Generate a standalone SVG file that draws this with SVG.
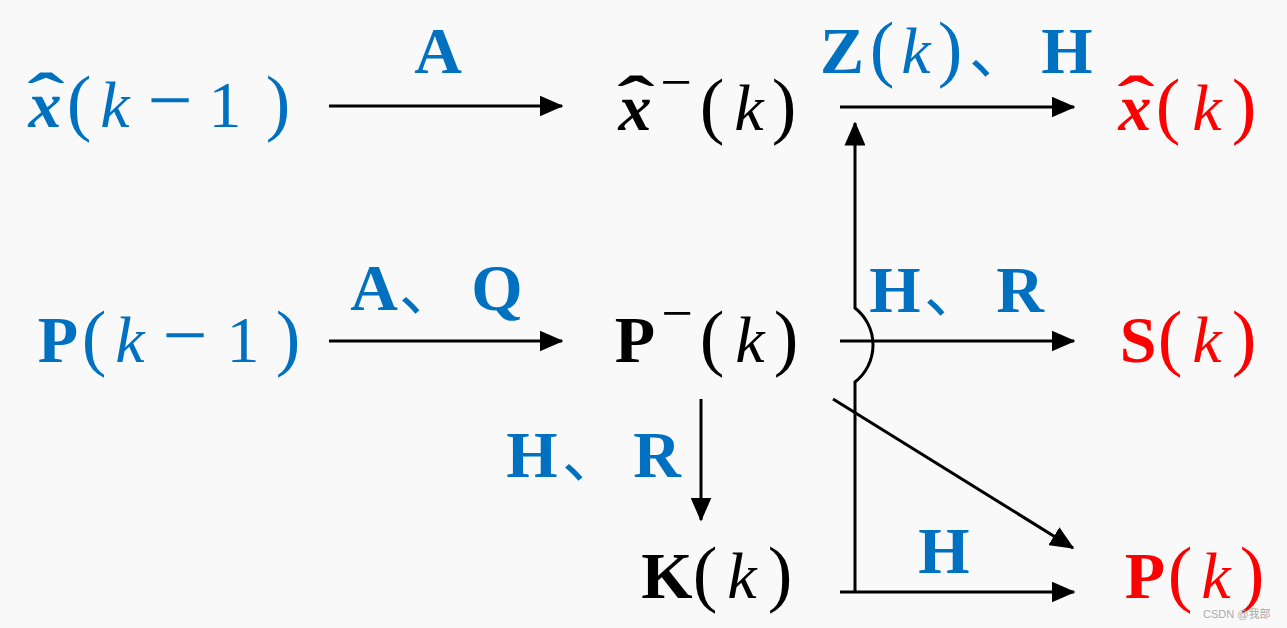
<svg xmlns="http://www.w3.org/2000/svg" width="1287" height="628" viewBox="0 0 1287 628">
<defs>
<marker id="ah" markerWidth="8" markerHeight="7" refX="7.5" refY="3.5" orient="auto" markerUnits="strokeWidth">
<path d="M0,0 L8,3.5 L0,7 Z" fill="#000"/>
</marker>
<style>
text{font-family:"Liberation Serif","DejaVu Serif",serif;text-anchor:middle;font-size:66px}
.b{fill:#0070C0}.r{fill:#FF0000}.k{fill:#000}
.bd{font-weight:bold}
.it{font-style:italic}
.x{font-weight:bold;font-style:italic}
.hat{font-weight:bold;font-size:66px}
.p{font-size:74px}
.m{font-size:80px}
.sup{font-size:56px}
.cm{font-family:"Noto Sans CJK SC",sans-serif;font-size:60px}
.c{stroke:#000;stroke-width:3;fill:none;marker-end:url(#ah)}
</style>
</defs>
<rect width="1287" height="628" fill="#F9F9F9"/>
<g id="connectors">
<line class="c" x1="329" y1="106" x2="562" y2="106"/>
<line class="c" x1="840" y1="107" x2="1074" y2="107"/>
<line class="c" x1="329" y1="341" x2="562" y2="341"/>
<line class="c" x1="840" y1="341" x2="1074" y2="341"/>
<line class="c" x1="701" y1="399" x2="701" y2="520"/>
<line class="c" x1="833" y1="399" x2="1073" y2="548"/>
<line class="c" x1="840" y1="592" x2="1074" y2="592"/>
<path class="c" d="M855,592 V382 A47,47 0 0 0 855,308 V123"/>
</g>
<g id="xhat_km1">
<text class="b" y="127"><tspan class="x" x="45">x</tspan><tspan class="p" x="79">(</tspan><tspan class="it" x="115">k</tspan><tspan class="m" x="170">−</tspan><tspan x="225">1</tspan><tspan class="p" x="278">)</tspan></text>
<text class="b hat" transform="translate(46,119) scale(1.7,1)">ˆ</text>
</g>
<g id="xhat_minus_k">
<text class="k" y="130"><tspan class="x" x="635">x</tspan><tspan class="sup" x="676" y="101">−</tspan><tspan class="p" x="712" y="130">(</tspan><tspan class="it" x="749">k</tspan><tspan class="p" x="784">)</tspan></text>
<text class="k hat" transform="translate(636,122) scale(1.7,1)">ˆ</text>
</g>
<g id="xhat_k">
<text class="r" y="130"><tspan class="x" x="1135">x</tspan><tspan class="p" x="1168">(</tspan><tspan class="it" x="1207">k</tspan><tspan class="p" x="1244">)</tspan></text>
<text class="r hat" transform="translate(1136,122) scale(1.7,1)">ˆ</text>
</g>
<g id="P_km1"><text class="b" y="362"><tspan class="bd" x="58">P</tspan><tspan class="p" x="94">(</tspan><tspan class="it" x="130">k</tspan><tspan class="m" x="185">−</tspan><tspan x="243">1</tspan><tspan class="p" x="288">)</tspan></text></g>
<g id="P_minus_k"><text class="k" y="362"><tspan class="bd" x="635">P</tspan><tspan class="sup" x="677" y="332">−</tspan><tspan class="p" x="712" y="362">(</tspan><tspan class="it" x="750">k</tspan><tspan class="p" x="786">)</tspan></text></g>
<g id="S_k"><text class="r" y="362"><tspan class="bd" x="1138">S</tspan><tspan class="p" x="1170">(</tspan><tspan class="it" x="1207">k</tspan><tspan class="p" x="1244">)</tspan></text></g>
<g id="K_k"><text class="k" y="598"><tspan class="bd" x="667">K</tspan><tspan class="p" x="705">(</tspan><tspan class="it" x="742">k</tspan><tspan class="p" x="780">)</tspan></text></g>
<g id="P_k"><text class="r" y="598"><tspan class="bd" x="1145">P</tspan><tspan class="p" x="1180">(</tspan><tspan class="it" x="1216">k</tspan><tspan class="p" x="1252">)</tspan></text></g>
<g id="labels">
<text class="b bd" x="438" y="73">A</text>
<text class="b" y="73"><tspan class="bd" x="842">Z</tspan><tspan class="p" x="882">(</tspan><tspan class="it" x="916">k</tspan><tspan class="p" x="950">)</tspan><tspan class="cm" x="999">、</tspan><tspan class="bd" x="1067">H</tspan></text>
<text class="b" y="310"><tspan class="bd" x="374">A</tspan><tspan class="cm" x="429">、</tspan><tspan class="bd" x="497">Q</tspan></text>
<text class="b" y="312"><tspan class="bd" x="895">H</tspan><tspan class="cm" x="954">、</tspan><tspan class="bd" x="1020">R</tspan></text>
<text class="b" y="477"><tspan class="bd" x="532">H</tspan><tspan class="cm" x="592">、</tspan><tspan class="bd" x="657">R</tspan></text>
<text class="b bd" x="944" y="573">H</text>
</g>
<text x="1203" y="618" style="font-family:'Liberation Sans','Noto Sans CJK SC',sans-serif;font-size:11px;fill:#AAAAAA;text-anchor:start">CSDN @我部</text>
</svg>
